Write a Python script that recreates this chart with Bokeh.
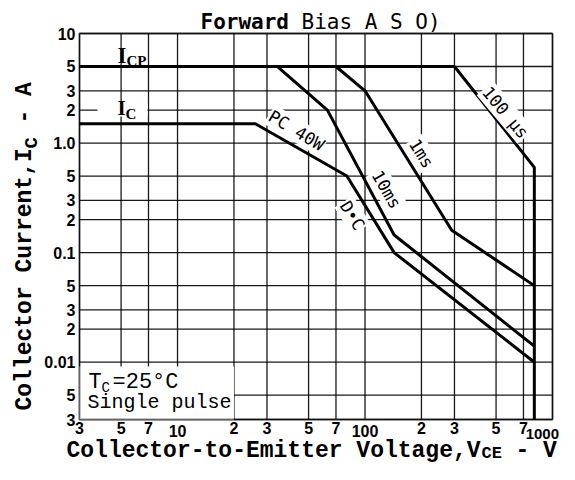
import math
from bokeh.plotting import figure
from bokeh.models import FixedTicker, Label, BoxAnnotation, LogAxis
from bokeh.embed import file_html
from bokeh.resources import INLINE

# ---------------- data ----------------
x_ticks = [3, 5, 7, 10, 20, 30, 50, 70, 100, 200, 300, 500, 700, 1000]
x_digit_ticks = [3, 5, 7, 20, 30, 50, 70, 200, 300, 500, 700]
x_digit_labels = ["3", "5", "7", "2", "3", "5", "7", "2", "3", "5", "7"]
x_decades = [10, 100]
x_decade_labels = ["10", "100"]
x_last_label = "1000"
y_ticks = [0.003, 0.005, 0.01, 0.02, 0.03, 0.05, 0.1, 0.2, 0.3, 0.5, 1, 2, 3, 5, 10]
y_tick_labels = ["3", "5", "0.01", "2", "3", "5", "0.1", "2", "3", "5", "1.0", "2", "3", "5", "10"]

icp_v = [3, 300]
icp_a = [5, 5]
dc_v = [3, 26, 80, 143, 800]
dc_a = [1.5, 1.5, 0.5, 0.1, 0.01]
ms10_v = [34, 63, 143, 800]
ms10_a = [5, 2, 0.145, 0.014]
ms1_v = [70, 100, 290, 800]
ms1_a = [5, 3, 0.16, 0.05]
us100_v = [300, 800, 800]
us100_a = [5, 0.6, 0.003]

X_MIN, X_MAX = 3, 1000
Y_MIN, Y_MAX = 0.003, 10

# ---------------- layout (canvas pixels) ----------------
W, H = 559, 464
FL, FT, FR, FB = 79, 33, 552, 419     # chart box inside the canvas
FW, FH = FR - FL, FB - FT
XD = math.log10(X_MAX / X_MIN)
YD = math.log10(Y_MAX / Y_MIN)


def dx(X):
    return X_MIN * 10 ** ((X - FL) / FW * XD)


def dy(Y):
    return Y_MAX * 10 ** (-(Y - FT) / FH * YD)


p = figure(width=W, height=H, x_axis_type="log", y_axis_type="log",
           x_range=(dx(0), dx(W)), y_range=(dy(H), dy(0)),
           output_backend="svg", toolbar_location=None, min_border=0,
           background_fill_color="white", border_fill_color="white")
p.title.visible = False
p.outline_line_color = None
p.xgrid.visible = False
p.ygrid.visible = False

# grid lines at the tick values, limited to the chart box
nx, ny = len(x_ticks), len(y_ticks)
p.segment(x0=x_ticks, y0=[Y_MIN] * nx, x1=x_ticks, y1=[Y_MAX] * nx,
          line_color="black", line_width=1.3, line_alpha=0.9)
p.segment(x0=[X_MIN] * ny, y0=y_ticks, x1=[X_MAX] * ny, y1=y_ticks,
          line_color="black", line_width=1.3, line_alpha=0.9)


def style_axis(ax, standoff):
    ax.axis_line_color = None
    ax.major_tick_line_color = None
    ax.minor_tick_line_color = None
    ax.major_tick_out = 0
    ax.major_tick_in = 0
    ax.minor_tick_out = 0
    ax.minor_tick_in = 0
    ax.major_label_text_font = "Liberation Sans"
    ax.major_label_text_font_style = "bold"
    ax.major_label_text_font_size = "16px"
    ax.major_label_text_color = "black"
    ax.major_label_standoff = standoff


xa = p.xaxis[0]
xa.ticker = FixedTicker(ticks=x_digit_ticks)
xa.major_label_overrides = {float(t): s for t, s in zip(x_digit_ticks, x_digit_labels)}
xa.fixed_location = Y_MIN
style_axis(xa, 2)

xa2 = LogAxis(ticker=FixedTicker(ticks=x_decades),
              major_label_overrides={float(t): s for t, s in zip(x_decades, x_decade_labels)})
p.add_layout(xa2, "below")
xa2.fixed_location = Y_MIN
style_axis(xa2, 5)

ya = p.yaxis[0]
ya.ticker = FixedTicker(ticks=y_ticks)
ya.major_label_overrides = {float(t): s for t, s in zip(y_ticks, y_tick_labels)}
ya.fixed_location = X_MIN
style_axis(ya, 4)

# ---------------- curves ----------------
for xs, ys in [(icp_v, icp_a), (dc_v, dc_a), (ms10_v, ms10_a), (ms1_v, ms1_a), (us100_v, us100_a)]:
    p.line(xs, ys, line_color="black", line_width=3, line_join="round")


# ---------------- annotations ----------------
K = 0.3   # baseline -> middle offset (fraction of font size)


def lab(text, X, Y, size, font="Liberation Mono", style="normal", align="left",
        angle=0.0, bg=None, pad=0, center=False):
    """X, Y: baseline start point in canvas px (or the centre if center=True)."""
    if not center:
        if abs(angle - math.pi / 2) < 1e-6:
            X = X - K * size
        else:
            Y = Y - K * size
    kw = dict(x=dx(X), y=dy(Y), text=text,
              text_font=font, text_font_size=f"{size}px", text_font_style=style,
              text_align=align, text_baseline="middle", angle=angle,
              text_color="black")
    if bg:
        kw.update(background_fill_color=bg, padding=pad)
    p.add_layout(Label(**kw))


# white patches behind the I_C and Tc texts
p.add_layout(BoxAnnotation(left=dx(97), right=dx(147), bottom=dy(116), top=dy(103),
                           fill_color="white", fill_alpha=1, line_color=None))
p.add_layout(BoxAnnotation(left=X_MIN, right=20, bottom=Y_MIN, top=dy(366),
                           fill_color="white", fill_alpha=1, line_color=None))
# chart frame
p.add_layout(BoxAnnotation(left=X_MIN, right=X_MAX, bottom=Y_MIN, top=Y_MAX,
                           fill_alpha=0, line_color="black", line_width=2.5))

# last decade label, kept inside the canvas
lab(x_last_label, 558.5, 433, 15, font="Liberation Sans", style="bold",
    align="right", center=True)

# title
lab("Forward", 200, 28, 21, font="DejaVu Sans Mono", style="bold")
lab("Bias A S O)", 301, 28, 21, font="DejaVu Sans Mono")

# x axis title
lab("Collector-to-Emitter Voltage,V", 66, 457, 23, style="bold")
lab("CE", 481, 458, 17, style="bold")
lab("- V", 515, 457, 23, style="bold")

# y axis title (rotated)
rot = math.pi / 2
lab("Collector Current,I", 31, 410, 23, style="bold", angle=rot)
lab("C", 37, 148, 19, style="bold", angle=rot)
lab("- A", 31, 123, 23, style="bold", angle=rot)

# I_CP and I_C
lab("I", 117, 62, 23, font="Liberation Serif", style="bold")
lab("CP", 126, 65, 15, font="Liberation Serif", style="bold")
lab("I", 117, 114, 21, font="Liberation Serif", style="bold")
lab("C", 125, 118, 15, font="Liberation Serif", style="bold")

# Tc note
lab("T", 88, 389, 22)
lab("C", 101, 392, 14)
lab("=25°C", 112, 389, 22)
lab("Single pulse", 87, 408, 20)

# curve labels
deg = math.pi / 180
for txt, cx, cy, ang in [("PC 40W", 296, 130, -31), ("10ms", 386, 189, -60),
                         ("1ms", 421, 153, -58), ("100 µs", 505, 112, -50),
                         ("D•C", 352, 215, -58)]:
    lab(txt, cx, cy, 17, font="DejaVu Sans Mono", align="center",
        angle=ang * deg, bg="white", pad=1, center=True)

open("out.html", "w").write(file_html(p, INLINE))
